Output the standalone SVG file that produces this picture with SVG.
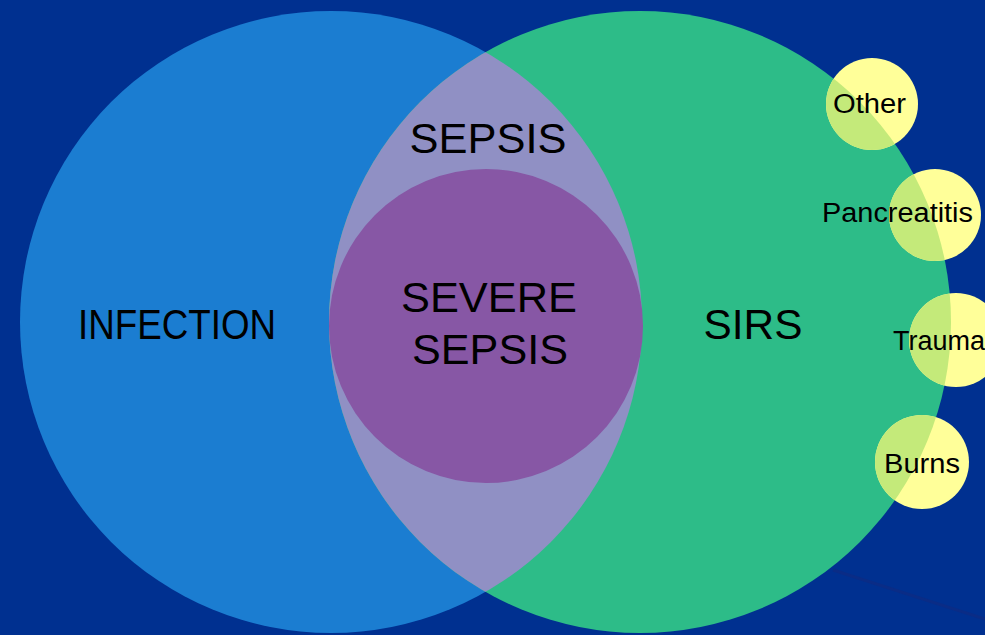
<svg xmlns="http://www.w3.org/2000/svg" width="985" height="635" viewBox="0 0 985 635">
<style>
.lbl{font-family:"Liberation Sans",Arial,sans-serif;fill:#000;}
.big{font-size:43px;text-anchor:middle;}
.small{font-size:27px;}
</style>
<defs>
<clipPath id="clipBlue"><circle cx="331" cy="322" r="311"/></clipPath>
<clipPath id="clipGreen"><circle cx="640" cy="322" r="311"/></clipPath>
</defs>
<rect x="0" y="0" width="985" height="635" fill="#003090"/>
<line x1="833" y1="570" x2="985" y2="619" stroke="#0a2c86" stroke-width="3"/>
<g id="infection">
<circle cx="331" cy="322" r="311" fill="#1b7dd1"/>
<text class="lbl big" x="177" y="339" textLength="198" lengthAdjust="spacingAndGlyphs">INFECTION</text>
</g>
<g id="sirs">
<circle cx="640" cy="322" r="311" fill="#2dbc88"/>
<text class="lbl big" x="753" y="339" textLength="99" lengthAdjust="spacingAndGlyphs">SIRS</text>
</g>
<g id="sepsis">
<circle cx="640" cy="322" r="311" fill="#9090c4" clip-path="url(#clipBlue)"/>
<text class="lbl big" x="488" y="153" textLength="157" lengthAdjust="spacingAndGlyphs">SEPSIS</text>
</g>
<g id="severe-sepsis">
<circle cx="486" cy="326" r="157" fill="#8757a5"/>
<text class="lbl big" x="489" y="312" textLength="176" lengthAdjust="spacingAndGlyphs">SEVERE</text>
<text class="lbl big" x="490" y="364" textLength="156" lengthAdjust="spacingAndGlyphs">SEPSIS</text>
</g>
<g id="other">
<circle cx="872" cy="104" r="46" fill="#ffff99"/>
<circle cx="872" cy="104" r="46" fill="#c4ea7a" clip-path="url(#clipGreen)"/>
<text class="lbl small" x="833" y="113" textLength="73" lengthAdjust="spacingAndGlyphs">Other</text>
</g>
<g id="pancreatitis">
<circle cx="935" cy="215" r="46" fill="#ffff99"/>
<circle cx="935" cy="215" r="46" fill="#c4ea7a" clip-path="url(#clipGreen)"/>
<text class="lbl small" x="822" y="222" textLength="151" lengthAdjust="spacingAndGlyphs">Pancreatitis</text>
</g>
<g id="trauma">
<circle cx="956" cy="340" r="47" fill="#ffff99"/>
<circle cx="956" cy="340" r="47" fill="#c4ea7a" clip-path="url(#clipGreen)"/>
<text class="lbl small" x="893" y="350">Trauma</text>
</g>
<g id="burns">
<circle cx="922" cy="462" r="47" fill="#ffff99"/>
<circle cx="922" cy="462" r="47" fill="#c4ea7a" clip-path="url(#clipGreen)"/>
<text class="lbl small" x="884" y="473" textLength="76" lengthAdjust="spacingAndGlyphs">Burns</text>
</g>
<g id="connectors"></g>
</svg>
